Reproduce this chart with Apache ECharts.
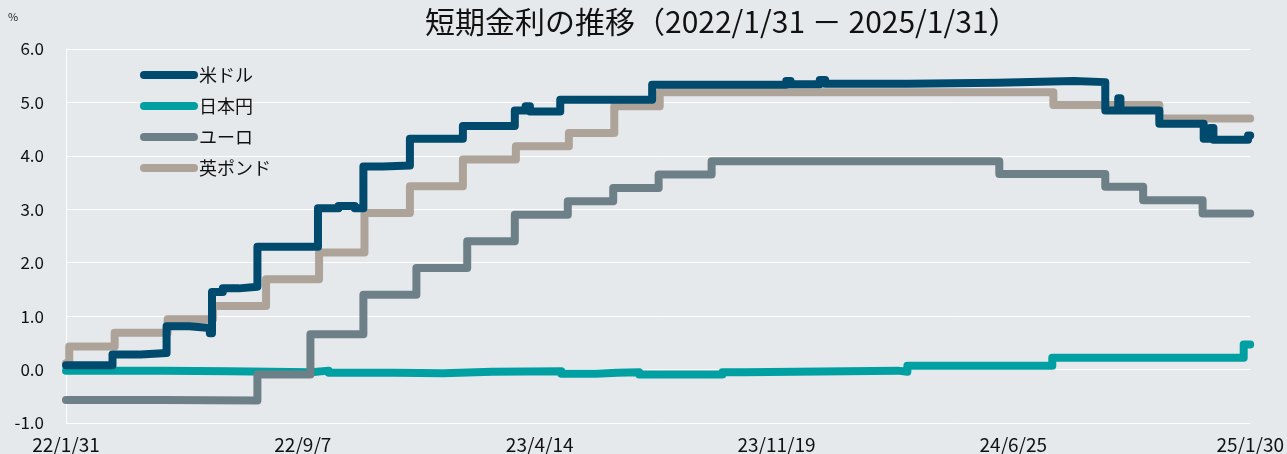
<!DOCTYPE html>
<html>
<head>
<meta charset="utf-8">
<script src="https://cdn.jsdelivr.net/npm/echarts@6/dist/echarts.min.js"></script>
<style>
  html, body { margin: 0; padding: 0; background: #e6e9ec; }
  #chart { width: 1287px; height: 454px; }
</style>
</head>
<body>
<div id="chart"></div>
<script>
  // 期間と目盛
  const startDate = '2022-01-31';
  const endDate = '2025-01-30';
  const tickStep = 219; // 日数
  const yTicks = [-1, 0, 1, 2, 3, 4, 5, 6];

  const seriesNames = ['米ドル', '日本円', 'ユーロ', '英ポンド'];

  // 各通貨の変化点 [日付, %]
  const usd = [
    ['2022-01-31', 0.08], ['2022-03-15', 0.28], ['2022-04-10', 0.31], ['2022-05-04', 0.81],
    ['2022-05-25', 0.78], ['2022-06-13', 0.68], ['2022-06-15', 1.45], ['2022-06-25', 1.52],
    ['2022-07-10', 1.55], ['2022-07-27', 2.30], ['2022-09-21', 3.02], ['2022-10-10', 3.06],
    ['2022-10-25', 3.02], ['2022-11-02', 3.80], ['2022-11-20', 3.82], ['2022-12-15', 4.32],
    ['2023-02-02', 4.56], ['2023-03-22', 4.85], ['2023-04-01', 4.93], ['2023-04-05', 4.83],
    ['2023-05-03', 5.05], ['2023-07-27', 5.33], ['2023-11-28', 5.40], ['2023-12-02', 5.34],
    ['2023-12-29', 5.42], ['2024-01-03', 5.35], ['2024-03-20', 5.37], ['2024-06-10', 5.40],
    ['2024-08-20', 5.38], ['2024-09-18', 4.85], ['2024-09-30', 5.08], ['2024-10-02', 4.85],
    ['2024-11-07', 4.60], ['2024-12-18', 4.32], ['2024-12-24', 4.52], ['2024-12-27', 4.30],
    ['2025-01-28', 4.38], ['2025-01-30', 4.38]
  ];
  const jpy = [
    ['2022-01-31', -0.02], ['2022-05-01', -0.03], ['2022-07-01', -0.05], ['2022-09-15', -0.02],
    ['2022-10-01', -0.06], ['2022-12-01', -0.07], ['2023-01-15', -0.04], ['2023-03-01', -0.03],
    ['2023-05-04', -0.08], ['2023-06-05', -0.06], ['2023-06-25', -0.05], ['2023-07-15', -0.09],
    ['2023-09-30', -0.05], ['2023-10-20', -0.02], ['2024-03-10', -0.04], ['2024-03-19', 0.07],
    ['2024-07-31', 0.22], ['2025-01-24', 0.47], ['2025-01-30', 0.47]
  ];
  const eur = [
    ['2022-01-31', -0.57], ['2022-05-01', -0.58], ['2022-07-27', -0.09], ['2022-09-14', 0.66],
    ['2022-11-02', 1.40], ['2022-12-21', 1.90], ['2023-02-06', 2.40], ['2023-03-22', 2.90],
    ['2023-05-10', 3.15], ['2023-06-21', 3.40], ['2023-08-02', 3.65], ['2023-09-20', 3.90],
    ['2024-06-12', 3.66], ['2024-09-18', 3.42], ['2024-10-23', 3.17], ['2024-12-17', 2.92],
    ['2025-01-30', 2.91]
  ];
  const gbp = [
    ['2022-01-31', 0.12], ['2022-02-03', 0.43], ['2022-03-17', 0.69], ['2022-05-05', 0.94],
    ['2022-06-16', 1.19], ['2022-08-04', 1.69], ['2022-09-22', 2.19], ['2022-11-03', 2.93],
    ['2022-12-15', 3.43], ['2023-02-02', 3.93], ['2023-03-23', 4.18], ['2023-05-11', 4.43],
    ['2023-06-22', 4.93], ['2023-08-03', 5.19], ['2024-08-01', 4.95], ['2024-11-07', 4.70],
    ['2025-01-30', 4.70]
  ];

  const colors = ['#004a6e', '#00a0a2', '#6e8087', '#ada399'];

  function dayOf(s) {
    const [y, m, d] = s.split('-').map(Number);
    const [y0, m0, d0] = startDate.split('-').map(Number);
    return Math.round((Date.UTC(y, m - 1, d) - Date.UTC(y0, m0 - 1, d0)) / 86400000);
  }
  function labelOf(day) {
    const [y0, m0, d0] = startDate.split('-').map(Number);
    const dt = new Date(Date.UTC(y0, m0 - 1, d0) + day * 86400000);
    return String(dt.getUTCFullYear()).slice(2) + '/' + (dt.getUTCMonth() + 1) + '/' + dt.getUTCDate();
  }

  const chart = echarts.init(document.getElementById('chart'));
  const font = '"Noto Sans CJK JP", sans-serif';

  const option = {
    backgroundColor: '#e6e9ec',
    animation: false,
    title: {
      text: '短期金利の推移（2022/1/31 － 2025/1/31）',
      left: 420,
      top: 2,
      textStyle: { fontFamily: font, fontSize: 30, fontWeight: 'normal', color: '#111' },
    },
    graphic: [
      { type: 'text', left: 8, top: 11, style: { text: '%', fontFamily: font, fontSize: 11, fill: '#222' } },
    ],
    legend: {
      orient: 'vertical',
      left: 135,
      top: 61,
      itemWidth: 58,
      itemHeight: 8,
      itemGap: 13,
      icon: 'path://M4,0 H54 A4,4 0 0 1 54,8 H4 A4,4 0 0 1 4,0 Z',
      data: seriesNames,
      textStyle: { fontFamily: font, fontSize: 18, color: '#111', padding: [0, 0, 0, -4] },
    },
    grid: { left: 66, right: 33, top: 49, bottom: 31 },
    xAxis: {
      type: 'value',
      min: 0,
      max: dayOf(endDate),
      interval: tickStep,
      axisLine: { show: false },
      axisTick: { show: false },
      splitLine: { show: false },
      axisLabel: {
        margin: 12,
        fontFamily: font,
        fontSize: 19,
        color: '#111',
        formatter: (v) => labelOf(v),
      },
    },
    yAxis: {
      type: 'value',
      min: yTicks[0],
      max: yTicks[yTicks.length - 1],
      interval: 1,
      axisLine: { show: true, lineStyle: { color: '#ffffff', width: 1 } },
      axisTick: { show: false },
      splitLine: { lineStyle: { color: '#ffffff', width: 1 } },
      axisLabel: {
        margin: 22,
        fontFamily: font,
        fontSize: 17,
        color: '#111',
        formatter: (v) => v.toFixed(1),
      },
    },
    series: [usd, jpy, eur, gbp].map((arr, i) => ({
      name: seriesNames[i],
      type: 'line',
      step: 'end',
      showSymbol: false,
      data: arr.map((p) => [dayOf(p[0]), p[1]]),
      itemStyle: { color: colors[i] },
      lineStyle: { color: colors[i], width: 8, cap: 'round', join: 'round' },
      z: [4, 2, 3, 3][i],
    })),
  };
  chart.setOption(option);
</script>
</body>
</html>
